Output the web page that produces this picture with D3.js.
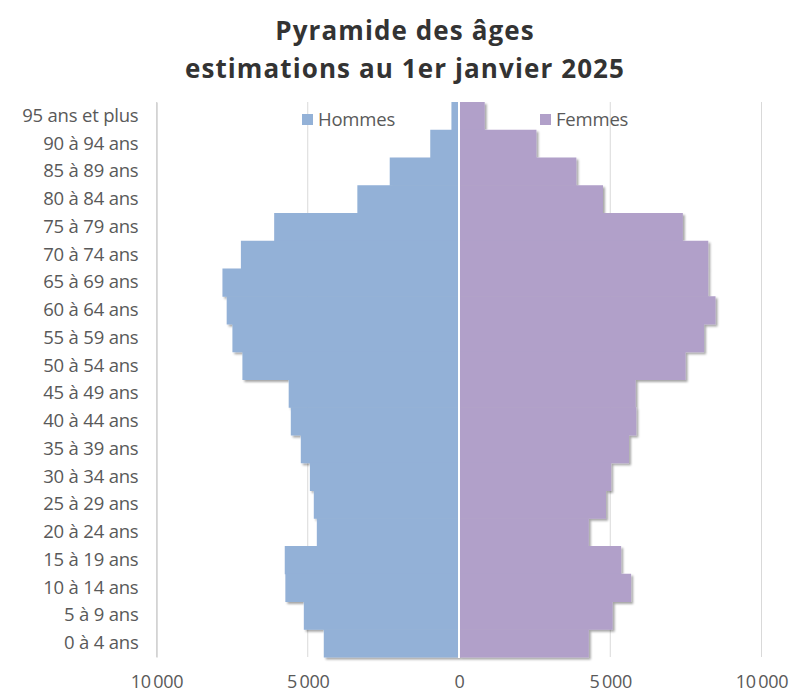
<!DOCTYPE html>
<html>
<head>
<meta charset="utf-8">
<script src="https://cdn.jsdelivr.net/npm/d3@7"></script>
<style>
  html, body { margin: 0; padding: 0; background: #ffffff; }
  svg { display: block; }
</style>
</head>
<body>
<svg id="chart" width="793" height="696"></svg>
<script>
// ---- Data ----
const ageGroups = [
  "95 ans et plus", "90 à 94 ans", "85 à 89 ans", "80 à 84 ans", "75 à 79 ans",
  "70 à 74 ans", "65 à 69 ans", "60 à 64 ans", "55 à 59 ans", "50 à 54 ans",
  "45 à 49 ans", "40 à 44 ans", "35 à 39 ans", "30 à 34 ans", "25 à 29 ans",
  "20 à 24 ans", "15 à 19 ans", "10 à 14 ans", "5 à 9 ans", "0 à 4 ans"
];
const hommes = [250, 950, 2290, 3360, 6110, 7210, 7820, 7680, 7490, 7160,
                5630, 5560, 5230, 4930, 4800, 4700, 5760, 5740, 5130, 4470];
const femmes = [850, 2560, 3880, 4760, 7400, 8240, 8240, 8480, 8100, 7490,
                5840, 5860, 5620, 5030, 4860, 4290, 5360, 5690, 5080, 4290];
const xTicks = [-10000, -5000, 0, 5000, 10000];
const seriesNames = ["Hommes", "Femmes"];
const seriesColors = ["#93b1d7", "#b1a0c9"];
const titleLines = ["Pyramide des âges", "estimations au 1er janvier 2025"];

// ---- Layout ----
const svg = d3.select("#chart");
const plot = { left: 156.5, right: 761.5, top: 102, bottom: 657 };
const FONT = "'Open Sans', Lato, sans-serif";

const x = d3.scaleLinear().domain([-10000, 10000]).range([plot.left, plot.right]);
const y = d3.scaleBand().domain(ageGroups).range([plot.top, plot.bottom]).padding(0);

const fmt = v => {
  const a = Math.abs(v);
  return a === 0 ? "0" : d3.format(",")(a).replace(/,/g, "\u2009");
};

// shadow filter
const defs = svg.append("defs");
const f = defs.append("filter").attr("id", "shadow")
  .attr("x", "-5%").attr("y", "-5%").attr("width", "110%").attr("height", "110%");
f.append("feDropShadow").attr("dx", 2).attr("dy", 2).attr("stdDeviation", 1.3)
  .attr("flood-color", "#000").attr("flood-opacity", 0.35);

// Title
svg.append("g").selectAll("text").data(titleLines).join("text")
  .attr("x", 405).attr("y", (d, i) => 40 + i * 38)
  .attr("text-anchor", "middle")
  .attr("font-family", FONT)
  .attr("font-weight", "bold")
  .attr("font-size", 26)
  .attr("letter-spacing", 1.1)
  .attr("fill", "#333333")
  .text(d => d);

// Gridlines (excluding 0)
svg.append("g").selectAll("line").data(xTicks.filter(d => d !== 0)).join("line")
  .attr("x1", d => x(d)).attr("x2", d => x(d))
  .attr("y1", plot.top).attr("y2", plot.bottom)
  .attr("stroke", "#d9d9d9").attr("stroke-width", 1);

// Bars
const gH = svg.append("g").attr("filter", "url(#shadow)");
gH.selectAll("rect").data(ageGroups).join("rect")
  .attr("x", (d, i) => x(-hommes[i]))
  .attr("y", d => y(d))
  .attr("width", (d, i) => x(0) - x(-hommes[i]))
  .attr("height", y.bandwidth() + 0.5)
  .attr("fill", seriesColors[0]);

const gF = svg.append("g").attr("filter", "url(#shadow)");
gF.selectAll("rect").data(ageGroups).join("rect")
  .attr("x", x(0))
  .attr("y", d => y(d))
  .attr("width", (d, i) => x(femmes[i]) - x(0))
  .attr("height", y.bandwidth() + 0.5)
  .attr("fill", seriesColors[1]);

// zero separator
svg.append("line")
  .attr("x1", x(0)).attr("x2", x(0))
  .attr("y1", plot.top).attr("y2", plot.bottom + 1)
  .attr("stroke", "#ffffff").attr("stroke-width", 2);

// Left vertical axis
const yAxis = d3.axisLeft(y).tickSize(0).tickPadding(18);
const gy = svg.append("g").attr("transform", `translate(${plot.left},0)`).call(yAxis);
gy.select(".domain").attr("stroke", "#d0d0d0").attr("stroke-width", 1.5);
gy.selectAll("text")
  .attr("font-family", FONT)
  .attr("font-size", 18.5)
  .attr("letter-spacing", -0.2)
  .attr("fill", "#595959");

// Bottom axis (labels only)
const xAxis = d3.axisBottom(x).tickValues(xTicks).tickFormat(fmt).tickSize(0).tickPadding(18);
const gx = svg.append("g").attr("transform", `translate(0,${plot.bottom})`).call(xAxis);
gx.select(".domain").remove();
gx.selectAll("text")
  .attr("font-family", FONT)
  .attr("font-size", 18)
  .attr("letter-spacing", -0.3)
  .attr("fill", "#595959");

// Legend
const legendX = [302, 540];
const leg = svg.append("g").selectAll("g").data(seriesNames).join("g")
  .attr("transform", (d, i) => `translate(${legendX[i]},114)`);
leg.append("rect").attr("width", 11).attr("height", 11)
  .attr("fill", (d, i) => seriesColors[i]);
leg.append("text").attr("x", 16).attr("y", 6).attr("dy", "0.35em")
  .attr("font-family", FONT)
  .attr("font-size", 18.5)
  .attr("letter-spacing", -0.2)
  .attr("fill", "#595959")
  .text(d => d);
</script>
</body>
</html>
